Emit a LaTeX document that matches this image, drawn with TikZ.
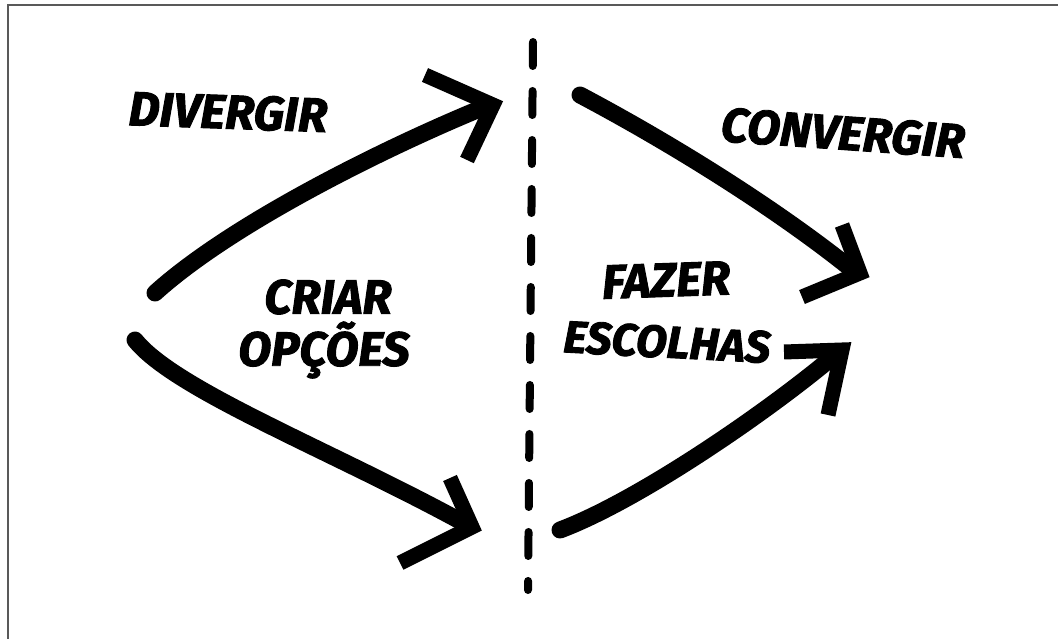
\documentclass[tikz,border=0pt]{standalone}
\usepackage{fontspec}
\newfontfamily\comic{Fira Sans}[BoldItalicFeatures={FakeBold=2}]
\begin{document}
\begin{tikzpicture}[x=1pt,y=-1pt]
\tikzset{
  shaft/.style={line width=17pt, line cap=round},
  arrowhead/.style={line width=15pt, line cap=butt, line join=miter, miter limit=4},
  lbl/.style={font=\comic\bfseries\itshape\fontsize{48}{50}\selectfont, inner sep=0pt, align=center},
  divider/.style={line width=8pt, line cap=round, dash pattern=on 24pt off 25pt},
  framing/.style={draw=black!65, line width=2pt}
}
\useasboundingbox (0,0) rectangle (1058,639);
\fill[white] (0,0) rectangle (1058,639);
% frame
\coordinate (f1) at (8,639);
\coordinate (f2) at (8,5);
\coordinate (f3) at (1058,5);
\draw[framing] (f1) -- (f2) -- (f3);
% divider
\coordinate (dtop) at (533,42);
\coordinate (dbot) at (528,590);
\draw[divider] (dtop) -- (dbot);
% arrow A: divergir up
\coordinate (aS) at (155,293);
\coordinate (aE) at (482,108);
\coordinate (aT) at (493,105);
\coordinate (aU) at (425,75);
\coordinate (aL) at (467,160);
\draw[shaft] (aS) .. controls (230,225) and (380,150) .. (aE);
\draw[arrowhead] (aU) -- (aT) -- (aL);
% arrow B: divergir down
\coordinate (bS) at (135,340);
\coordinate (bE) at (462,522);
\coordinate (bT) at (472,527);
\coordinate (bU) at (450,478);
\coordinate (bL) at (400,563);
\draw[shaft] (bS) .. controls (175,390) and (330,450) .. (bE);
\draw[arrowhead] (bU) -- (bT) -- (bL);
% arrow C: convergir down
\coordinate (cS) at (580,95);
\coordinate (cE) at (850,268);
\coordinate (cT) at (860,273);
\coordinate (cU) at (842,225);
\coordinate (cL) at (802,297);
\draw[shaft] (cS) .. controls (680,148) and (780,212) .. (cE);
\draw[arrowhead] (cU) -- (cT) -- (cL);
% arrow D: convergir up
\coordinate (dS) at (560,530);
\coordinate (dE) at (835,355);
\coordinate (dT) at (842,350);
\coordinate (dU) at (784,352);
\coordinate (dL) at (828,415);
\draw[shaft] (dS) .. controls (640,500) and (770,410) .. (dE);
\draw[arrowhead] (dU) -- (dT) -- (dL);
% labels
\node[lbl, rotate=-2] (divergir) at (228,112) {DIVERGIR};
\node[lbl] (criar) at (328,297) {CRIAR};
\node[lbl] (opcoes) at (324,350) {OPÇÕES};
\node[lbl, rotate=-4] (convergir) at (843,133) {CONVERGIR};
\node[lbl, rotate=2] (fazer) at (666,280) {FAZER};
\node[lbl, rotate=-3, font=\comic\bfseries\itshape\fontsize{45}{47}\selectfont] (escolhas) at (667,342) {ESCOLHAS};
\end{tikzpicture}
\end{document}
